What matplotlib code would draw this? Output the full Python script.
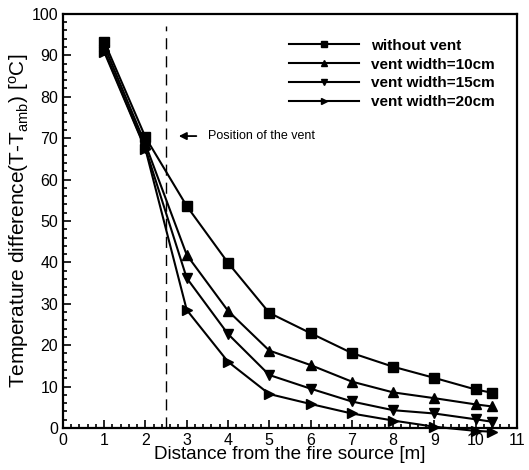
import matplotlib
matplotlib.use("Agg")
import matplotlib.pyplot as plt
from matplotlib.ticker import MultipleLocator

plt.rcParams['font.family'] = ['Liberation Sans', 'DejaVu Sans']
plt.rcParams['mathtext.fontset'] = 'custom'
plt.rcParams['mathtext.rm'] = 'Liberation Sans'
plt.rcParams['mathtext.it'] = 'Liberation Sans'

x = [1, 2, 3, 4, 5, 6, 7, 8, 9, 10, 10.4]
without_vent = [93.3, 70.2, 53.6, 39.9, 27.8, 22.9, 18.1, 14.8, 12.1, 9.3, 8.5]
vent_10 = [92.3, 68.5, 41.8, 28.3, 18.7, 15.2, 11.2, 8.6, 7.2, 5.7, 5.2]
vent_15 = [91.2, 67.5, 36.2, 22.7, 12.8, 9.5, 6.4, 4.3, 3.5, 2.1, 1.5]
vent_20 = [90.8, 67.3, 28.5, 16.0, 8.2, 5.8, 3.5, 1.8, 0.3, -0.7, -0.9]
labels = ['without vent', 'vent width=10cm', 'vent width=15cm', 'vent width=20cm']
vent_pos = 2.5

fig = plt.figure(figsize=(5.29, 4.70), dpi=100)
ax = fig.add_axes([0.119, 0.0894, 0.858, 0.881])

series = [without_vent, vent_10, vent_15, vent_20]
markers = ['s', '^', 'v', '>']
for ys, m, lab in zip(series, markers, labels):
    ax.plot(x, ys, color='black', lw=1.5, marker=m, markersize=6.5,
            label=lab, clip_on=False, zorder=3)

ax.plot([vent_pos, vent_pos], [0, 97], color='black', lw=1.0,
        linestyle=(0, (8, 5)))

ax.annotate('', xy=(2.74, 70.5), xytext=(3.3, 70.5),
            arrowprops=dict(arrowstyle='-|>', color='black', lw=1.3,
                            mutation_scale=11))
ax.text(3.52, 70.5, 'Position of the vent', fontsize=9, va='center',
        ha='left')

ax.set_xlim(0, 11)
ax.set_ylim(0, 100)
ax.xaxis.set_major_locator(MultipleLocator(1))
ax.xaxis.set_minor_locator(MultipleLocator(0.2))
ax.yaxis.set_major_locator(MultipleLocator(10))
ax.yaxis.set_minor_locator(MultipleLocator(2))
ax.tick_params(which='both', direction='in', top=False, right=False,
               labelsize=11.5, width=1.2)
ax.tick_params(which='major', length=6)
ax.tick_params(which='minor', length=3)
for s in ax.spines.values():
    s.set_linewidth(1.6)

ax.set_xlabel('Distance from the fire source [m]', fontsize=13.6, labelpad=-1)
ax.set_ylabel(r'Temperature difference(T-T$_{\mathrm{amb}}$) [$^{\mathrm{o}}$C]',
              fontsize=15, labelpad=0)

leg = ax.legend(loc='upper left', bbox_to_anchor=(0.485, 0.955), frameon=False,
                handlelength=4.6, handletextpad=0.75, labelspacing=0.32,
                markerscale=0.75,
                prop={'size': 11, 'weight': 'semibold'}, borderaxespad=0)

fig.savefig('out.png', dpi=100)
